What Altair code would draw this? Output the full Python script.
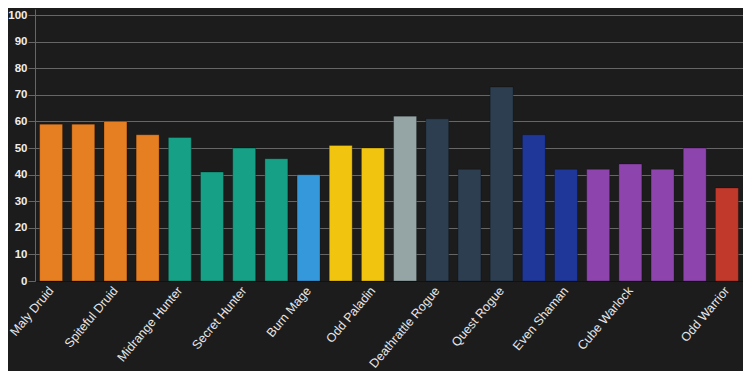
import altair as alt
import pandas as pd

decks = [
    "Maly Druid", "Taunt Druid", "Spiteful Druid", "Token Druid",
    "Midrange Hunter", "Recruit Hunter", "Secret Hunter", "Spell Hunter",
    "Burn Mage", "Even Paladin", "Odd Paladin", "Spiteful Priest",
    "Deathrattle Rogue", "Odd Rogue", "Quest Rogue", "Shudderwock Shaman",
    "Even Shaman", "Control Warlock", "Cube Warlock", "Even Warlock",
    "Zoo Warlock", "Odd Warrior",
]
values = [59, 59, 60, 55, 54, 41, 50, 46, 40, 51, 50, 62, 61, 42, 73, 55, 42, 42, 44, 42, 50, 35]
colors = [
    "#e67e22", "#e67e22", "#e67e22", "#e67e22",
    "#16a085", "#16a085", "#16a085", "#16a085",
    "#3498db", "#f1c40f", "#f1c40f", "#95a5a6",
    "#2c3e50", "#2c3e50", "#2c3e50", "#1e3799",
    "#1e3799", "#8e44ad", "#8e44ad", "#8e44ad",
    "#8e44ad", "#c0392b",
]
shown_labels = [
    "Maly Druid", "Spiteful Druid", "Midrange Hunter", "Secret Hunter",
    "Burn Mage", "Odd Paladin", "Deathrattle Rogue", "Quest Rogue",
    "Even Shaman", "Cube Warlock", "Odd Warrior",
]
y_ticks = list(range(0, 101, 10))

df = pd.DataFrame({"deck": decks, "value": values, "color": colors})

chart = alt.Chart(df).mark_bar(
    stroke="#000", strokeOpacity=0.25, strokeWidth=1
).encode(
    x=alt.X(
        "deck:N",
        sort=decks,
        title=None,
        scale=alt.Scale(paddingInner=0.286, paddingOuter=0.143),
        axis=alt.Axis(
            values=shown_labels,
            labelAngle=-50,
            labelAlign="right",
            labelBaseline="middle",
            labelColor="#e6e6e6",
            labelFont="Liberation Sans",
            labelFontSize=12.5,
            labelPadding=7,
            ticks=False,
            domainColor="#111111",
            domainWidth=1,
            grid=False,
            labelOverlap=False,
        ),
    ),
    y=alt.Y(
        "value:Q",
        title=None,
        scale=alt.Scale(domain=[0, 102.3], nice=False),
        axis=alt.Axis(
            values=y_ticks,
            labelColor="#eeeeee",
            labelFont="Liberation Sans",
            labelFontSize=11.5,
            labelFontWeight="bold",
            labelPadding=1,
            tickColor="#666666",
            tickSize=7,
            gridColor="#666666",
            gridWidth=1,
            domainColor="#666666",
        ),
    ),
    color=alt.Color("color:N", scale=None, legend=None),
).properties(
    width=708,
    height=272,
    background="#1c1c1c",
    padding={"left": 27, "top": 1, "right": 0, "bottom": 90},
    autosize=alt.AutoSizeParams(type="none"),
).configure_view(stroke=None)

chart.save("out.html", embed_options={"renderer": "svg", "actions": False})
